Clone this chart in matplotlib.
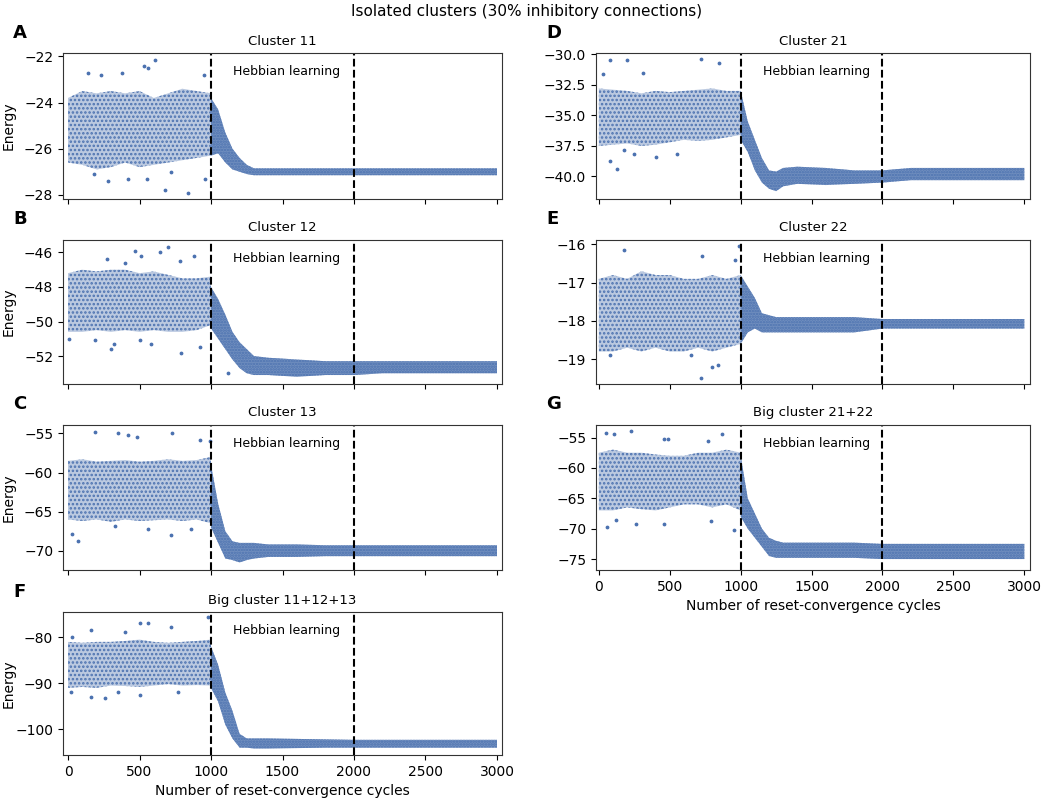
import matplotlib.pyplot as plt

# ---- data (energy envelopes per cycle + loose points) ----
pre_x = [0, 100, 200, 300, 400, 500, 600, 700, 800, 900, 1000]
post_x = [1000, 1050, 1100, 1150, 1200, 1250, 1300, 1400, 1600, 1800, 2000, 2200, 2400, 2600, 2800, 3000]

# Cluster 11
a_pre_lo = [-26.6, -26.7, -26.9, -26.8, -26.6, -26.8, -26.7, -26.6, -26.5, -26.4, -26.3]
a_pre_hi = [-23.8, -23.5, -23.6, -23.5, -23.6, -23.5, -23.8, -23.6, -23.4, -23.5, -23.6]
a_post_lo = [-26.3, -26.2, -26.6, -26.9, -27.0, -27.1, -27.15, -27.15, -27.15, -27.15, -27.15, -27.15, -27.15, -27.15, -27.15, -27.15]
a_post_hi = [-23.8, -24.3, -25.3, -26.0, -26.4, -26.7, -26.85, -26.85, -26.85, -26.85, -26.85, -26.85, -26.85, -26.85, -26.85, -26.85]
a_out_x = [140, 230, 380, 530, 560, 605, 950, 180, 280, 420, 550, 680, 720, 840, 960]
a_out_y = [-22.7, -22.8, -22.7, -22.4, -22.5, -22.15, -22.8, -27.1, -27.4, -27.3, -27.3, -27.8, -27.0, -27.9, -27.3]

# Cluster 12
b_pre_lo = [-50.6, -50.6, -50.5, -50.6, -50.5, -50.6, -50.5, -50.6, -50.6, -50.5, -50.2]
b_pre_hi = [-47.2, -47.0, -47.1, -47.0, -47.0, -47.2, -47.1, -47.3, -47.5, -47.5, -47.4]
b_post_lo = [-50.4, -51.0, -51.6, -52.2, -52.7, -53.0, -53.1, -53.1, -53.2, -53.1, -53.1, -53.0, -53.0, -53.0, -53.0, -53.0]
b_post_hi = [-48.0, -48.7, -49.6, -50.6, -51.2, -51.6, -52.0, -52.1, -52.2, -52.3, -52.3, -52.3, -52.3, -52.3, -52.3, -52.3]
b_out_x = [270, 400, 470, 510, 640, 700, 780, 880, 10, 190, 300, 320, 500, 580, 790, 920, 1120]
b_out_y = [-46.4, -46.6, -45.9, -46.2, -46.0, -45.7, -46.5, -46.2, -51.0, -51.1, -51.6, -51.3, -51.1, -51.3, -51.8, -51.5, -53.0]

# Cluster 13
c_pre_lo = [-66.0, -66.2, -66.0, -66.3, -66.0, -66.2, -66.1, -66.0, -66.2, -66.0, -66.5]
c_pre_hi = [-58.5, -58.3, -58.6, -58.5, -58.4, -58.6, -58.5, -58.3, -58.5, -58.4, -58.0]
c_post_lo = [-67.0, -69.0, -71.0, -71.2, -71.5, -71.2, -71.0, -70.8, -70.8, -70.7, -70.7, -70.7, -70.7, -70.7, -70.7, -70.7]
c_post_hi = [-59.0, -64.0, -67.5, -68.8, -69.0, -69.0, -69.0, -69.2, -69.2, -69.3, -69.3, -69.3, -69.3, -69.3, -69.3, -69.3]
c_out_x = [190, 350, 420, 480, 730, 920, 990, 30, 70, 330, 560, 720, 860]
c_out_y = [-54.8, -55.0, -55.2, -55.5, -55.0, -55.8, -56.0, -67.8, -68.7, -66.8, -67.2, -68.0, -67.2]

# Big cluster 11+12+13
f_pre_lo = [-91.0, -90.8, -91.0, -90.5, -90.6, -90.8, -90.5, -90.2, -90.5, -90.4, -90.5]
f_pre_hi = [-81.0, -81.2, -81.0, -81.0, -80.8, -80.5, -81.0, -81.2, -81.0, -80.8, -80.5]
f_post_lo = [-91.0, -94.0, -99.0, -102.0, -104.0, -104.0, -104.2, -104.2, -104.1, -104.0, -104.0, -104.0, -104.0, -104.0, -104.0, -104.0]
f_post_hi = [-82.0, -86.0, -92.0, -96.0, -101.0, -102.0, -102.0, -102.0, -102.1, -102.2, -102.3, -102.3, -102.3, -102.3, -102.3, -102.3]
f_out_x = [30, 160, 400, 500, 560, 720, 980, 20, 160, 260, 350, 500, 770]
f_out_y = [-80.0, -78.5, -78.8, -77.0, -76.8, -77.7, -75.5, -92.0, -93.0, -93.3, -92.0, -92.5, -92.0]

# Cluster 21
d_pre_lo = [-37.5, -37.4, -37.3, -37.5, -37.4, -37.2, -37.0, -37.1, -37.0, -36.8, -36.6]
d_pre_hi = [-32.8, -32.9, -33.0, -33.2, -33.0, -33.1, -33.0, -32.9, -32.8, -33.0, -33.0]
d_post_lo = [-37.0, -38.0, -39.5, -40.5, -41.0, -41.2, -40.8, -40.6, -40.7, -40.6, -40.5, -40.3, -40.3, -40.3, -40.3, -40.3]
d_post_hi = [-33.0, -35.5, -37.0, -38.5, -39.5, -39.6, -39.3, -39.2, -39.3, -39.5, -39.5, -39.3, -39.3, -39.3, -39.3, -39.3]
d_out_x = [30, 80, 200, 310, 720, 850, 80, 130, 180, 250, 400, 550]
d_out_y = [-31.6, -30.5, -30.5, -31.5, -30.4, -30.7, -38.7, -39.4, -37.8, -38.2, -38.4, -38.2]

# Cluster 22
e_pre_lo = [-18.8, -18.8, -18.7, -18.8, -18.7, -18.8, -18.8, -18.7, -18.8, -18.7, -18.6]
e_pre_hi = [-16.9, -16.8, -16.9, -16.7, -16.8, -16.8, -16.9, -16.9, -16.8, -16.9, -16.8]
e_post_lo = [-18.6, -18.3, -18.2, -18.3, -18.3, -18.3, -18.3, -18.3, -18.3, -18.3, -18.2, -18.2, -18.2, -18.2, -18.2, -18.2]
e_post_hi = [-16.8, -17.1, -17.4, -17.8, -17.85, -17.9, -17.9, -17.9, -17.9, -17.9, -17.95, -17.95, -17.95, -17.95, -17.95, -17.95]
e_out_x = [180, 730, 960, 990, 80, 650, 720, 800, 840]
e_out_y = [-16.15, -16.3, -16.4, -16.05, -18.9, -18.9, -19.5, -19.2, -19.15]

# Big cluster 21+22
g_pre_lo = [-67.0, -67.0, -66.5, -66.8, -67.0, -66.5, -66.0, -66.0, -66.5, -66.0, -67.0]
g_pre_hi = [-57.5, -57.0, -57.5, -57.5, -57.8, -58.0, -58.0, -57.5, -57.5, -57.0, -57.5]
g_post_lo = [-68.0, -70.0, -71.5, -73.0, -74.5, -74.8, -74.8, -74.8, -74.8, -74.8, -75.0, -75.0, -75.0, -75.0, -75.0, -75.0]
g_post_hi = [-58.0, -65.0, -67.5, -70.0, -71.5, -72.0, -72.3, -72.3, -72.3, -72.3, -72.5, -72.5, -72.5, -72.5, -72.5, -72.5]
g_out_x = [50, 110, 230, 460, 490, 770, 870, 60, 120, 260, 460, 790, 950]
g_out_y = [-54.3, -54.4, -54.0, -55.2, -55.3, -55.5, -54.5, -69.8, -68.5, -69.2, -69.3, -68.8, -70.2]

titles = ["Cluster 11", "Cluster 12", "Cluster 13", "Big cluster 11+12+13",
          "Cluster 21", "Cluster 22", "Big cluster 21+22"]
letters = ["A", "B", "C", "F", "D", "E", "G"]
xticks = [0, 500, 1000, 1500, 2000, 2500, 3000]

panels = [
    (a_pre_lo, a_pre_hi, a_post_lo, a_post_hi, a_out_x, a_out_y, [-28, -26, -24, -22], (-28.16, -21.85)),
    (b_pre_lo, b_pre_hi, b_post_lo, b_post_hi, b_out_x, b_out_y, [-52, -50, -48, -46], (-53.62, -45.25)),
    (c_pre_lo, c_pre_hi, c_post_lo, c_post_hi, c_out_x, c_out_y, [-70, -65, -60, -55], (-72.47, -53.85)),
    (f_pre_lo, f_pre_hi, f_post_lo, f_post_hi, f_out_x, f_out_y, [-100, -90, -80], (-105.6, -74.5)),
    (d_pre_lo, d_pre_hi, d_post_lo, d_post_hi, d_out_x, d_out_y, [-40.0, -37.5, -35.0, -32.5, -30.0], (-41.8, -29.9)),
    (e_pre_lo, e_pre_hi, e_post_lo, e_post_hi, e_out_x, e_out_y, [-19, -18, -17, -16], (-19.65, -15.87)),
    (g_pre_lo, g_pre_hi, g_post_lo, g_post_hi, g_out_x, g_out_y, [-75, -70, -65, -60, -55], (-76.8, -52.86)),
]

W, H = 1054, 798
# axes boxes in pixels: left, top, width, height
boxes = [
    (63, 53, 439, 145.5), (63, 239.5, 439, 144.5), (63, 424.5, 439, 145.5), (63, 612, 439, 143),
    (596, 53, 434, 145.5), (596, 239.5, 434, 144.5), (596, 424.5, 434, 145.5),
]
xlims = [(-35, 3035)] * 4 + [(-20, 3040)] * 3
show_xlabels = [False, False, False, True, False, False, True]

blue = "#4c72b0"
plt.rcParams["hatch.linewidth"] = 1.2

fig = plt.figure(figsize=(W / 100, H / 100), dpi=100)
fig.suptitle("Isolated clusters (30% inhibitory connections)", fontsize=11, y=0.995)

for i, (pre_lo, pre_hi, post_lo, post_hi, ox, oy, yt, yl) in enumerate(panels):
    l, t, w, h = boxes[i]
    ax = fig.add_axes([l / W, 1 - (t + h) / H, w / W, h / H])
    ax.fill_between(pre_x, pre_lo, pre_hi, facecolor=(0.30, 0.45, 0.69, 0.38),
                    edgecolor=blue, hatch="....", linewidth=0)
    ax.fill_between(post_x, post_lo, post_hi, facecolor=(0.30, 0.45, 0.69, 0.8),
                    edgecolor=blue, hatch="......", linewidth=0)
    ax.scatter(ox, oy, s=3, c=blue)
    ax.axvline(1000, color="k", ls="--", lw=1.5)
    ax.axvline(2000, color="k", ls="--", lw=1.5)
    ax.text(1156, yl[1] - (yl[1] - yl[0]) * 0.13, "Hebbian learning", fontsize=9, va="center")
    ax.set_xlim(*xlims[i])
    ax.set_ylim(*yl)
    ax.set_xticks(xticks)
    ax.set_yticks(yt)
    ax.tick_params(labelsize=10)
    if not show_xlabels[i]:
        ax.set_xticklabels([])
    else:
        ax.set_xlabel("Number of reset-convergence cycles", fontsize=10)
    if i < 4:
        ax.set_ylabel("Energy", fontsize=10)
        ax.yaxis.set_label_coords(-0.107, 0.5)
    ax.set_title(titles[i], fontsize=9.5)
    for sp in ax.spines.values():
        sp.set_color("#333333")
    fig.text((l - 50) / W, 1 - (t - 20) / H, letters[i], fontsize=13, fontweight="bold", va="center")

fig.savefig("out.png", dpi=100)
